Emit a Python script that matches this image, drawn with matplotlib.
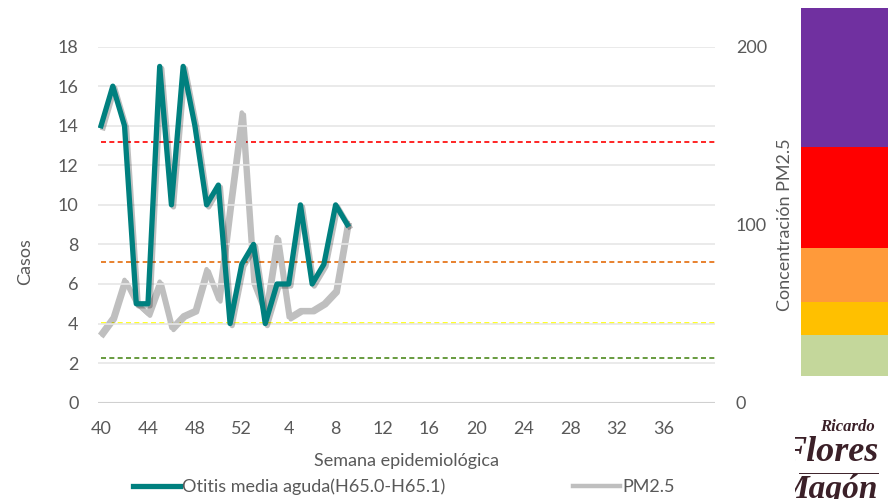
import matplotlib
matplotlib.use("Agg")
import matplotlib.pyplot as plt
import matplotlib.patheffects as pe
from matplotlib.lines import Line2D

plt.rcParams['font.family'] = ['Lato', 'DejaVu Sans']

# semanas epidemiologicas (40..52 y 1..39)
semanas = list(range(40, 53)) + list(range(1, 40))
etiquetas = [str(s) if i % 4 == 0 else '' for i, s in enumerate(semanas)]

# casos de otitis media aguda (semanas 40..9)
otitis = [14, 16, 14, 5, 5, 17, 10, 17, 14, 10, 11, 4, 7, 8, 4, 6, 6, 10, 6, 7, 10, 9]

# concentracion PM2.5 (semanas 40..9)
pm25 = [39, 48, 69, 56, 50, 68, 42, 49, 52, 75, 58, 112, 163, 67, 50, 93, 48, 52, 52, 56, 63, 101]

# umbrales de PM2.5 (lineas punteadas)
umbrales = [146.6, 78.9, 44.6, 25.3]
colores_umbral = ['#FF0000', '#E46C0A', '#FFFF00', '#4E8A1E']

# barra de colores de calidad del aire (de abajo hacia arriba)
bandas = [41, 33, 54, 101, 139]
colores_banda = ['#C4D79B', '#FFC000', '#FF9A3A', '#FF0000', '#7030A0']

gris_txt = '#595959'
fs = 13

fig = plt.figure(figsize=(8.91, 4.99), dpi=100)
ax = fig.add_axes([0.110, 0.193, 0.6925, 0.7136])
ax2 = ax.twinx()

x = list(range(len(otitis)))

ax.set_ylim(0, 18)
ax.set_yticks(range(0, 19, 2))
ax2.set_ylim(0, 200)
ax2.set_yticks([0, 100, 200])
ax.set_xlim(-0.26, 52.35)
ax.set_xticks(range(len(semanas)))
ax.set_xticklabels(etiquetas)

ax.grid(axis='y', color='#E6E6E6', linewidth=1.2)
ax.set_axisbelow(True)
for a in (ax, ax2):
    for s in a.spines.values():
        s.set_visible(False)
    a.tick_params(length=0, labelsize=fs, labelcolor=gris_txt)
ax.axhline(0, color='#D0D0D0', linewidth=1.5, zorder=1)
ax.tick_params(axis='y', pad=14)
ax.tick_params(axis='x', pad=13)
ax2.tick_params(axis='y', pad=15)

# umbrales
for u, c in zip(umbrales, colores_umbral):
    ax2.hlines(u, 0, 52.35, colors=c, linestyles=(0, (3, 2)), linewidth=1.2, zorder=2)

sombra = [pe.SimpleLineShadow(offset=(1.5, -1.5), alpha=0.25, shadow_color='#000000'), pe.Normal()]
ax2.plot(x, pm25, color='#BFBFBF', linewidth=3.2, zorder=3, path_effects=sombra)
ax.set_zorder(ax2.get_zorder() + 1)
ax.patch.set_visible(False)
ax.plot(x, otitis, color='#00807F', linewidth=3.8, zorder=4, path_effects=sombra)

ax.set_ylabel('Casos', fontsize=fs, color=gris_txt)
ax.yaxis.set_label_coords(-0.105, 0.395)
ax2.set_ylabel('Concentración PM2.5', fontsize=fs, color=gris_txt)
ax2.yaxis.set_label_coords(1.100, 0.5)
ax.set_xlabel('Semana epidemiológica', fontsize=fs, color=gris_txt)
ax.xaxis.set_label_coords(0.5, -0.141)

h = [Line2D([], [], color='#00807F', linewidth=3.8),
     Line2D([], [], color='#BFBFBF', linewidth=3.2)]
fig.legend(h, ['Otitis media aguda(H65.0-H65.1)', 'PM2.5'], ncol=2, frameon=False,
           loc='center', bbox_to_anchor=(404 / 891, 1 - 487 / 499), fontsize=fs,
           handlelength=2.6, handletextpad=0.1, columnspacing=7.1, labelcolor=gris_txt)

# barra de colores
axb = fig.add_axes([801 / 891, 1 - 376 / 499, 87 / 891, 368 / 499])
fondo = 0
for b, c in zip(bandas, colores_banda):
    axb.bar(0, b, bottom=fondo, color=c, width=1)
    fondo += b
axb.set_xlim(-0.5, 0.5)
axb.set_ylim(0, sum(bandas))
axb.axis('off')

# logotipo
axl = fig.add_axes([795 / 891, 0, 85 / 891, 89 / 499])
axl.set_xlim(0, 1)
axl.set_ylim(0, 1)
axl.axis('off')
logo = '#3B2028'
axl.text(0.62, 0.81, 'Ricardo', fontsize=12, family='Liberation Serif', style='italic',
         weight='bold', color=logo, ha='center', va='center', clip_on=True)
axl.text(0.976, 0.52, 'Flores', fontsize=26, family='Liberation Serif', style='italic',
         weight='bold', color=logo, ha='right', va='center', clip_on=True)
axl.axhline(0.29, xmin=0.05, xmax=0.98, color=logo, linewidth=0.7)
axl.text(0.976, 0.11, 'Magón', fontsize=24, family='Liberation Serif', style='italic',
         weight='bold', color=logo, ha='right', va='center', clip_on=True)

fig.savefig('out.png', dpi=100)
